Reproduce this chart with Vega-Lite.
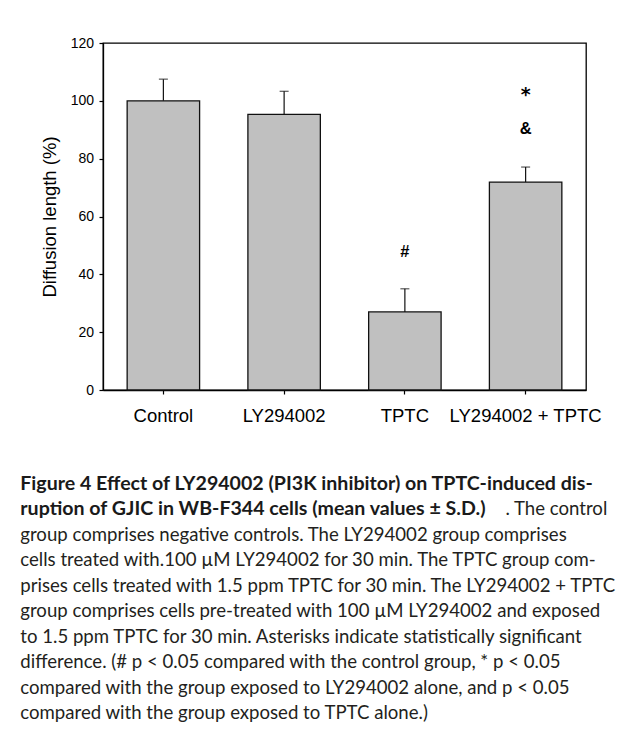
{
  "$schema": "https://vega.github.io/schema/vega-lite/v6.json",
  "autosize": {"type": "pad"},
  "padding": {"left": 20, "right": 16, "top": 35, "bottom": 10},
  "background": "white",
  "config": {
    "font": "Liberation Sans",
    "view": {"stroke": null},
    "concat": {"spacing": 48}
  },
  "datasets": {
    "bars": [
      {"group": "Control", "mean": 100, "upper": 107.5},
      {"group": "LY294002", "mean": 95.3, "upper": 103.3},
      {"group": "TPTC", "mean": 27.0, "upper": 35.0},
      {"group": "LY294002 + TPTC", "mean": 71.9, "upper": 77.1}
    ],
    "notes": [
      {"group": "TPTC", "label": "#", "value": 47.7},
      {"group": "LY294002 + TPTC", "label": "*", "value": 102.0},
      {"group": "LY294002 + TPTC", "label": "&", "value": 90.1}
    ],
    "caption": [
      {"line": 1, "part": "heading", "text": "Figure 4 Effect of LY294002 (PI3K inhibitor) on TPTC-induced dis-"},
      {"line": 2, "part": "heading", "text": "ruption of GJIC in WB-F344 cells (mean values ± S.D.)"},
      {"line": 2, "part": "bodyEnd", "text": ". The control"},
      {"line": 3, "part": "body", "text": "group comprises negative controls. The LY294002 group comprises"},
      {"line": 4, "part": "body", "text": "cells treated with.100 µM LY294002 for 30 min. The TPTC group com-"},
      {"line": 5, "part": "body", "text": "prises cells treated with 1.5 ppm TPTC for 30 min. The LY294002 + TPTC"},
      {"line": 6, "part": "body", "text": "group comprises cells pre-treated with 100 µM LY294002 and exposed"},
      {"line": 7, "part": "body", "text": "to 1.5 ppm TPTC for 30 min. Asterisks indicate statistically significant"},
      {"line": 8, "part": "body", "text": "difference. (# p < 0.05 compared with the control group, * p < 0.05"},
      {"line": 9, "part": "body", "text": "compared with the group exposed to LY294002 alone, and p < 0.05"},
      {"line": 10, "part": "body", "text": "compared with the group exposed to TPTC alone.)"}
    ]
  },
  "vconcat": [
    {
      "width": 483,
      "height": 347,
      "view": {"stroke": "black", "strokeWidth": 1.3},
      "layer": [
        {
          "data": {"name": "bars"},
          "mark": {"type": "bar", "fill": "#c0c0c0", "stroke": "#111111", "strokeWidth": 1.3},
          "encoding": {
            "x": {
              "field": "group", "type": "nominal", "sort": null,
              "scale": {"paddingInner": 0.4, "paddingOuter": 0.2},
              "axis": {
                "title": null, "labelAngle": 0, "labelFontSize": 18.5, "labelColor": "black",
                "tickColor": "black", "tickSize": 4, "tickWidth": 1.2, "labelPadding": 12,
                "domainColor": "black", "domainWidth": 1.3
              }
            },
            "y": {
              "field": "mean", "type": "quantitative", "title": "Diffusion length (%)",
              "scale": {"domain": [0, 120], "nice": false},
              "axis": {
                "values": [0, 20, 40, 60, 80, 100, 120], "grid": false,
                "labelFontSize": 14, "labelColor": "black", "labelPadding": 5.5,
                "tickSize": 4, "tickColor": "black", "tickWidth": 1.2,
                "domainColor": "black", "domainWidth": 1.3,
                "titleFontSize": 18.5, "titleFontWeight": "normal", "titleColor": "black", "titlePadding": 11
              }
            }
          }
        },
        {
          "data": {"name": "bars"},
          "mark": {"type": "rule", "color": "#111111", "strokeWidth": 1.2},
          "encoding": {
            "x": {"field": "group", "type": "nominal", "sort": null},
            "y": {"field": "mean", "type": "quantitative", "title": "Diffusion length (%)"},
            "y2": {"field": "upper"}
          }
        },
        {
          "data": {"name": "bars"},
          "mark": {"type": "tick", "color": "#111111", "size": 9, "thickness": 1.2},
          "encoding": {
            "x": {"field": "group", "type": "nominal", "sort": null},
            "y": {"field": "upper", "type": "quantitative", "title": "Diffusion length (%)"}
          }
        },
        {
          "data": {"name": "notes"},
          "transform": [{"filter": "datum.label != '*'"}],
          "mark": {"type": "text", "fontSize": 16.5, "fontWeight": "bold", "baseline": "middle", "color": "black"},
          "encoding": {
            "x": {"field": "group", "type": "nominal", "sort": null},
            "y": {"field": "value", "type": "quantitative", "title": "Diffusion length (%)"},
            "text": {"field": "label"}
          }
        },
        {
          "data": {"name": "notes"},
          "transform": [{"filter": "datum.label == '*'"}],
          "mark": {"type": "text", "font": "DejaVu Sans", "fontSize": 19, "fontWeight": "bold", "baseline": "middle", "color": "black"},
          "encoding": {
            "x": {"field": "group", "type": "nominal", "sort": null},
            "y": {"field": "value", "type": "quantitative", "title": "Diffusion length (%)"},
            "text": {"field": "label"}
          }
        }
      ]
    },
    {
      "width": 483,
      "height": 229,
      "data": {"name": "caption"},
      "encoding": {
        "y": {"field": "line", "type": "ordinal", "scale": {"type": "point", "padding": 0}, "axis": null}
      },
      "layer": [
        {
          "transform": [{"filter": "datum.part == 'heading'"}],
          "mark": {"type": "text", "font": "Lato", "fontSize": 19.6, "fontWeight": "bold", "align": "left", "baseline": "middle", "dx": -82.7, "color": "#1a1a1a"},
          "encoding": {
            "x": {"datum": 0, "type": "quantitative", "scale": {"domain": [0, 1]}, "axis": null},
            "text": {"field": "text"}
          }
        },
        {
          "transform": [{"filter": "datum.part == 'body'"}],
          "mark": {"type": "text", "font": "Lato", "fontSize": 18.6, "align": "left", "baseline": "middle", "dx": -82.7, "color": "#231f20"},
          "encoding": {
            "x": {"datum": 0, "type": "quantitative", "scale": {"domain": [0, 1]}, "axis": null},
            "text": {"field": "text"}
          }
        },
        {
          "transform": [{"filter": "datum.part == 'bodyEnd'"}],
          "mark": {"type": "text", "font": "Lato", "fontSize": 18.6, "align": "right", "baseline": "middle", "dx": 21.3, "color": "#231f20"},
          "encoding": {
            "x": {"datum": 1, "type": "quantitative", "scale": {"domain": [0, 1]}, "axis": null},
            "text": {"field": "text"}
          }
        }
      ]
    }
  ]
}
